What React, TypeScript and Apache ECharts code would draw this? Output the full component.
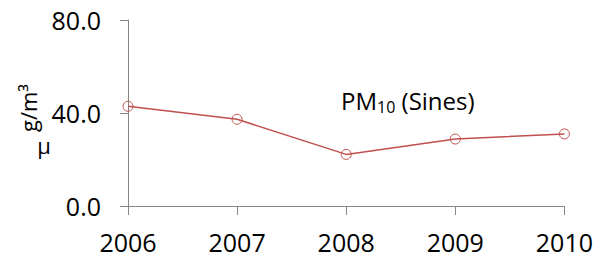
import React, { useEffect, useRef } from "react";
import * as echarts from "echarts";

const years = ["2006", "2007", "2008", "2009", "2010"];
const pm10Values = [42.9, 37.3, 22.2, 28.8, 31.0];
const yTicks = { min: 0, max: 80, interval: 40 };

const FONT = "'Open Sans', sans-serif";
const AXIS_COLOR = "#868686";
const LINE_COLOR = "#c0504d";

export default function App() {
  const ref = useRef<HTMLDivElement>(null);
  useEffect(() => {
    if (!ref.current) return;
    const chart = echarts.init(ref.current, null, { renderer: "svg" });
    chart.setOption({
      animation: false,
      backgroundColor: "#ffffff",
      title: {
        text: "PM{sub|10} (Sines)",
        left: 341,
        top: 85,
        padding: 0,
        textStyle: {
          fontFamily: FONT,
          fontSize: 24,
          fontWeight: "normal",
          color: "#000",
          lineHeight: 30,
          rich: {
            sub: { fontFamily: FONT, fontSize: 16, color: "#000", verticalAlign: "bottom", lineHeight: 15 },
          },
        },
      },
      grid: { left: 128, right: 31, top: 20, bottom: 51, containLabel: false },
      xAxis: {
        type: "category",
        data: years,
        boundaryGap: false,
        axisLine: { show: true, lineStyle: { color: AXIS_COLOR, width: 1 } },
        axisTick: { show: true, inside: false, length: 9, lineStyle: { color: AXIS_COLOR } },
        axisLabel: { fontFamily: FONT, fontSize: 25, color: "#000", margin: 23, lineHeight: 25 },
        splitLine: { show: false },
      },
      yAxis: {
        type: "value",
        min: yTicks.min,
        max: yTicks.max,
        interval: yTicks.interval,
        axisLine: { show: true, lineStyle: { color: AXIS_COLOR, width: 1 } },
        axisTick: { show: true, inside: false, length: 8, lineStyle: { color: AXIS_COLOR } },
        axisLabel: {
          fontFamily: FONT,
          fontSize: 25,
          color: "#000",
          margin: 27,
          formatter: (v: number) => v.toFixed(1),
        },
        splitLine: { show: false },
      },
      graphic: [
        {
          type: "text",
          x: 44,
          y: 145,
          style: { text: "μ", font: `22px ${FONT}`, fill: "#000", align: "center", verticalAlign: "middle" },
        },
        {
          type: "text",
          x: 28,
          y: 108,
          rotation: Math.PI / 2,
          style: { text: "g/m³", font: `22px ${FONT}`, fill: "#000", align: "center", verticalAlign: "middle" },
        },
      ],
      series: [
        {
          type: "line",
          data: pm10Values,
          symbol: "circle",
          symbolSize: 10,
          lineStyle: { color: LINE_COLOR, width: 1.5 },
          itemStyle: { color: "rgba(0,0,0,0)", borderColor: LINE_COLOR, borderWidth: 1 },
        },
      ],
    });
    return () => chart.dispose();
  }, []);
  return <div ref={ref} style={{ width: 596, height: 257, position: "absolute", left: 0, top: 0 }} />;
}
